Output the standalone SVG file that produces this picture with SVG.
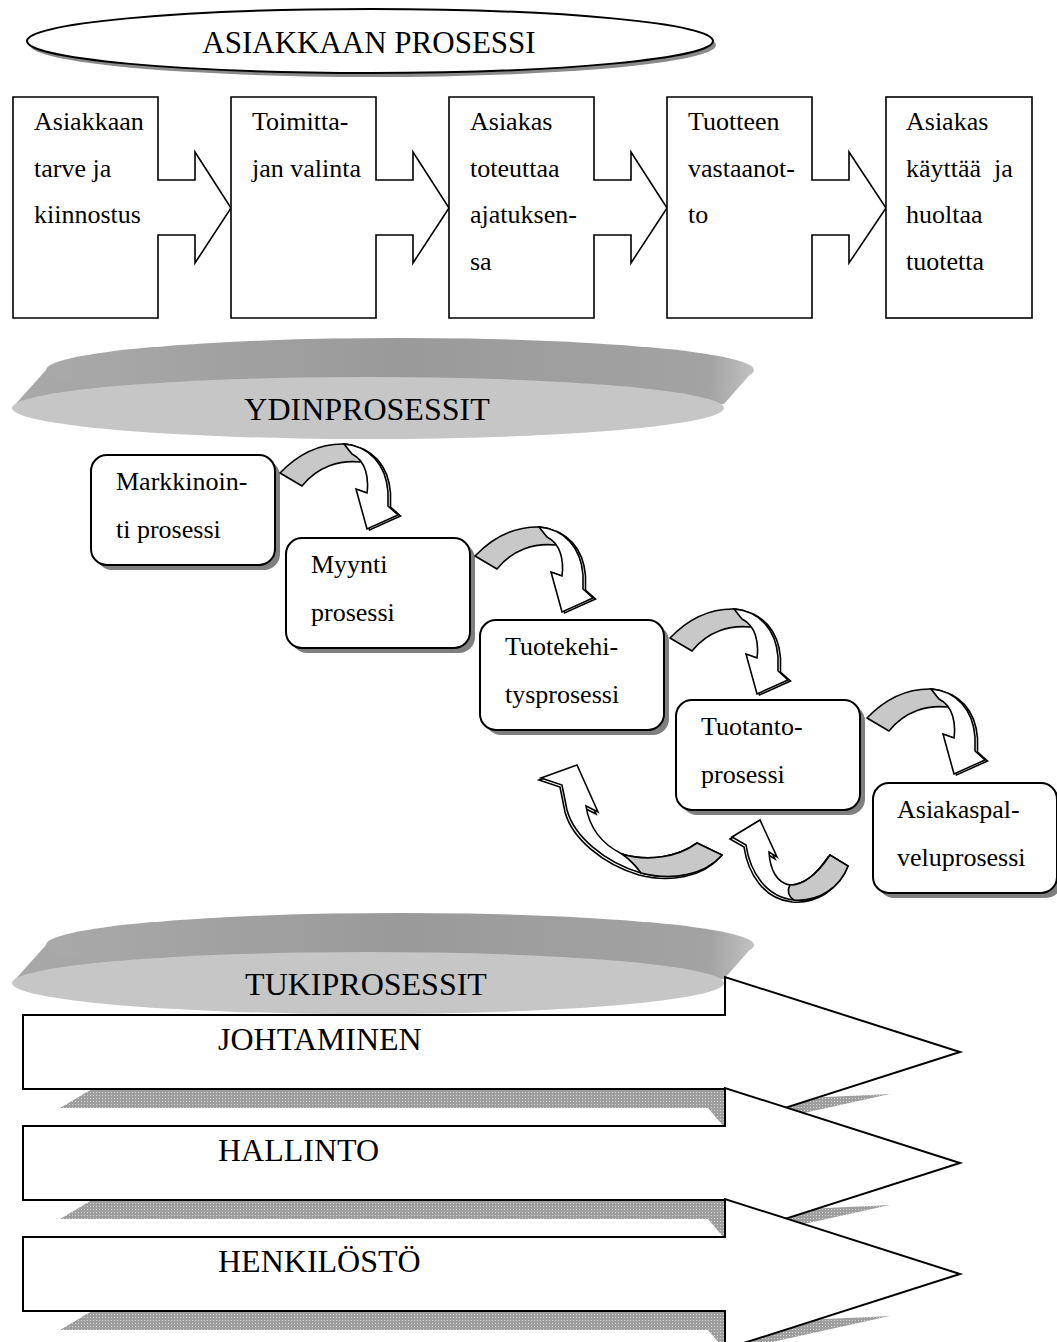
<svg xmlns="http://www.w3.org/2000/svg" width="1057" height="1342" viewBox="0 0 1057 1342">
<defs>
<style>
 text { font-family: "Liberation Serif", "Times New Roman", serif; fill: #000; }
 .t26 { font-size: 26px; }
 .t31 { font-size: 31px; }
 .t32 { font-size: 32px; }
 .box { fill: #fff; stroke: #000; stroke-width: 1.6; stroke-linejoin: miter; }
 .rbox { fill: #fff; stroke: #000; stroke-width: 2; }
 .rsh { fill: #7f7f7f; }
 .band { fill: #c8c8c8; stroke: #000; stroke-width: 1.6; stroke-linejoin: round; }
 .front { fill: #fff; stroke: #000; stroke-width: 1.6; stroke-linejoin: miter; }
 .sup { fill: #fff; stroke: #000; stroke-width: 2; stroke-linejoin: miter; }
 .face { fill: #c6c6c6; }
 .rim { fill: url(#rim); }
 .shade { fill: url(#dots); }
</style>
<linearGradient id="rim" x1="0" y1="0" x2="1" y2="0">
 <stop offset="0" stop-color="#a9a9a9"/>
 <stop offset="0.5" stop-color="#9a9a9a"/>
 <stop offset="0.94" stop-color="#a3a3a3"/>
 <stop offset="1" stop-color="#c2c2c2"/>
</linearGradient>
<pattern id="dots" width="3" height="3" patternUnits="userSpaceOnUse">
 <rect width="3" height="3" fill="#9e9e9e"/>
 <rect width="1" height="1" fill="#d4d4d4"/>
</pattern>
<!-- curved hand-over arrow between two core process boxes -->
<g id="curl">
 <path class="band" d="M280,473 C300,452 322,443 346,444 C356,445 362,450 365,456 L360,462 C340,460 318,466 302,486 Z"/>
 <path class="front" transform="translate(2.5,1)" d="M344,444 C370,446 386,465 388,492 L388,506 L398,515 L367,529 L356,489 L367,493 C369,478 366,461 352,454 Z"/>
 <path class="front" d="M344,444 C370,446 386,465 388,492 L388,506 L398,515 L367,529 L356,489 L367,493 C369,478 366,461 352,454 Z"/>
</g>
</defs>

<rect width="1057" height="1342" fill="#fff"/>

<!-- customer process header -->
<g id="customer-process">
 <ellipse cx="373" cy="45" rx="343" ry="32" fill="#8a8a8a"/>
 <ellipse cx="370" cy="41" rx="343" ry="32" fill="#fff" stroke="#000" stroke-width="2"/>
 <text class="t31" x="369" y="53" text-anchor="middle">ASIAKKAAN PROSESSI</text>
</g>

<!-- customer process steps, each box carries its own forward arrow -->
<g id="step-need">
 <path class="box" d="M13,97 H158 V180 H195 V152 L231,208 L195,263 V235 H158 V318 H13 Z"/>
 <text class="t26" x="34" y="130">Asiakkaan</text>
 <text class="t26" x="34" y="177">tarve ja</text>
 <text class="t26" x="34" y="223">kiinnostus</text>
</g>
<g id="step-supplier">
 <path class="box" d="M231,97 H376 V180 H413 V152 L449,208 L413,263 V235 H376 V318 H231 Z"/>
 <text class="t26" x="252" y="130">Toimitta-</text>
 <text class="t26" x="252" y="177">jan valinta</text>
</g>
<g id="step-realise">
 <path class="box" d="M449,97 H594 V180 H631 V152 L667,208 L631,263 V235 H594 V318 H449 Z"/>
 <text class="t26" x="470" y="130">Asiakas</text>
 <text class="t26" x="470" y="177">toteuttaa</text>
 <text class="t26" x="470" y="223">ajatuksen-</text>
 <text class="t26" x="470" y="270">sa</text>
</g>
<g id="step-receive">
 <path class="box" d="M667,97 H812 V180 H849 V152 L886,208 L849,263 V235 H812 V318 H667 Z"/>
 <text class="t26" x="688" y="130">Tuotteen</text>
 <text class="t26" x="688" y="177">vastaanot-</text>
 <text class="t26" x="688" y="223">to</text>
</g>
<g id="step-use">
 <rect class="box" x="886" y="97" width="146" height="221"/>
 <text class="t26" x="906" y="130">Asiakas</text>
 <text class="t26" x="906" y="177" xml:space="preserve">käyttää  ja</text>
 <text class="t26" x="906" y="223">huoltaa</text>
 <text class="t26" x="906" y="270">tuotetta</text>
</g>

<!-- core processes disc -->
<g id="core-processes">
 <path class="rim" d="M12,408 L46,370 L754,370 L724,404 Z"/>
 <ellipse class="rim" cx="400" cy="370" rx="354" ry="32"/>
 <ellipse class="face" cx="368" cy="408" rx="356" ry="31"/>
 <text class="t32" x="367" y="420" text-anchor="middle">YDINPROSESSIT</text>
</g>

<!-- core process boxes -->
<g id="marketing">
 <rect class="rsh" x="96" y="460" width="184" height="110" rx="16"/>
 <rect class="rbox" x="91" y="455" width="184" height="110" rx="16"/>
 <text class="t26" x="116" y="490">Markkinoin-</text>
 <text class="t26" x="116" y="538">ti prosessi</text>
</g>
<g id="sales">
 <rect class="rsh" x="291" y="543" width="184" height="110" rx="16"/>
 <rect class="rbox" x="286" y="538" width="184" height="110" rx="16"/>
 <text class="t26" x="311" y="573">Myynti</text>
 <text class="t26" x="311" y="621">prosessi</text>
</g>
<g id="product-development">
 <rect class="rsh" x="485" y="625" width="184" height="110" rx="16"/>
 <rect class="rbox" x="480" y="620" width="184" height="110" rx="16"/>
 <text class="t26" x="505" y="655">Tuotekehi-</text>
 <text class="t26" x="505" y="703">tysprosessi</text>
</g>
<g id="production">
 <rect class="rsh" x="681" y="705" width="184" height="110" rx="16"/>
 <rect class="rbox" x="676" y="700" width="184" height="110" rx="16"/>
 <text class="t26" x="701" y="735">Tuotanto-</text>
 <text class="t26" x="701" y="783">prosessi</text>
</g>
<g id="customer-service">
 <rect class="rsh" x="878" y="788" width="184" height="110" rx="16"/>
 <rect class="rbox" x="873" y="783" width="184" height="110" rx="16"/>
 <text class="t26" x="897" y="818">Asiakaspal-</text>
 <text class="t26" x="897" y="866">veluprosessi</text>
</g>

<!-- connectors between core processes -->
<g id="connectors">
 <use href="#curl"/>
 <use href="#curl" transform="translate(195,83)"/>
 <use href="#curl" transform="translate(390,165)"/>
 <use href="#curl" transform="translate(587,245)"/>

 <!-- feedback arrow back towards product development -->
 <path class="front" transform="translate(-2,2)" d="M541,778 L577,765 L598,812 L586,806 C589,826 600,843 622,854 C648,862 678,857 697,843 L722,855 C705,875 672,881 641,873 C604,862 574,836 567,810 L562,785 Z"/>
 <path class="front" d="M541,778 L577,765 L598,812 L586,806 C589,826 600,843 622,854 C648,862 678,857 697,843 L722,855 C705,875 672,881 641,873 C604,862 574,836 567,810 L562,785 Z"/>
 <path class="band" d="M622,854 C648,862 678,857 697,843 L722,855 C705,875 672,881 641,873 C636,866 629,859 622,854 Z"/>

 <!-- feedback arrow back towards production -->
 <path class="front" transform="translate(-2,2)" d="M732,837 L760,820 L777,857 L769,852 C770,870 777,883 790,885 C806,885 820,870 830,855 L848,866 C840,888 818,902 794,900 C766,897 750,872 746,845 Z"/>
 <path class="front" d="M732,837 L760,820 L777,857 L769,852 C770,870 777,883 790,885 C806,885 820,870 830,855 L848,866 C840,888 818,902 794,900 C766,897 750,872 746,845 Z"/>
 <path class="band" d="M790,885 C806,885 820,870 830,855 L848,866 C840,888 818,902 794,900 C788,896 787,890 790,885 Z"/>
</g>

<!-- support processes disc -->
<g id="support-processes">
 <path class="rim" d="M12,983 L46,945 L754,945 L724,979 Z"/>
 <ellipse class="rim" cx="400" cy="945" rx="354" ry="32"/>
 <ellipse class="face" cx="368" cy="983" rx="356" ry="31"/>
 <text class="t32" x="366" y="995" text-anchor="middle">TUKIPROSESSIT</text>
</g>

<!-- support process arrows with their cast shadows -->
<g id="management">
 <polygon class="shade" points="60,1108 92,1089 725,1089 760,1100 890,1094 745,1126 725,1128 708,1108"/>
 <polygon class="sup" points="23,1015 725,1015 725,977 960,1052 725,1127 725,1089 23,1089"/>
 <text class="t32" x="218" y="1050">JOHTAMINEN</text>
</g>
<g id="administration">
 <polygon class="shade" points="60,1219 92,1200 725,1200 760,1211 890,1205 745,1237 725,1239 708,1219"/>
 <polygon class="sup" points="23,1126 725,1126 725,1088 960,1163 725,1238 725,1200 23,1200"/>
 <text class="t32" x="218" y="1161">HALLINTO</text>
</g>
<g id="personnel">
 <polygon class="shade" points="60,1330 92,1311 725,1311 760,1322 890,1316 745,1348 725,1350 708,1330"/>
 <polygon class="sup" points="23,1237 725,1237 725,1199 960,1274 725,1349 725,1311 23,1311"/>
 <text class="t32" x="218" y="1272">HENKILÖSTÖ</text>
</g>
</svg>
